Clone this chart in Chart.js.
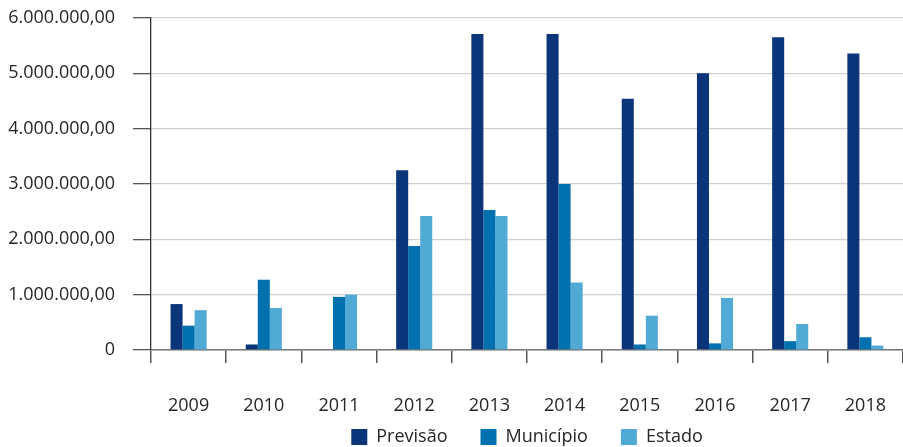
<!DOCTYPE html>
<html>
<head>
<meta charset="utf-8">
<script src="https://cdn.jsdelivr.net/npm/chart.js"></script>
<style>
  html, body { margin: 0; padding: 0; background: #fff; }
  #wrap { width: 903px; height: 447px; }
</style>
</head>
<body>
<div id="wrap"><canvas id="chart"></canvas></div>
<script>
const years = ["2009", "2010", "2011", "2012", "2013", "2014", "2015", "2016", "2017", "2018"];
const previsao = [830000, 100000, 0, 3250000, 5710000, 5710000, 4540000, 5000000, 5650000, 5360000];
const municipio = [440000, 1270000, 960000, 1880000, 2530000, 3000000, 100000, 120000, 160000, 230000];
const estado = [720000, 760000, 1000000, 2420000, 2420000, 1220000, 620000, 940000, 470000, 80000];
const yTicks = [0, 1000000, 2000000, 3000000, 4000000, 5000000, 6000000];

// 1000000 -> "1.000.000,00", 0 -> "0"
function fmt(v) {
  if (v === 0) return "0";
  const s = Math.round(v).toString().replace(/\B(?=(\d{3})+(?!\d))/g, ".");
  return s + ",00";
}

const FONT = "'Open Sans', 'Noto Sans', sans-serif";
Chart.defaults.font.family = FONT;
Chart.defaults.font.size = 18;
Chart.defaults.color = "#262626";

new Chart(document.getElementById("chart"), {
  type: "bar",
  data: {
    labels: years,
    datasets: [
      { label: "Previsão", data: previsao, backgroundColor: "#0a357b" },
      { label: "Município", data: municipio, backgroundColor: "#0071ae" },
      { label: "Estado", data: estado, backgroundColor: "#51a9d6" }
    ]
  },
  options: {
    responsive: true,
    maintainAspectRatio: false,
    animation: false,
    layout: { padding: { top: 18, right: 0, left: 0, bottom: -9 } },
    datasets: { bar: { barPercentage: 1, categoryPercentage: 0.48 } },
    plugins: {
      tooltip: { enabled: false },
      legend: {
        position: "bottom",
        fullSize: false,
        // empty title with negative padding pulls the row up, keeps wide item gaps
        title: { display: true, text: "", font: { size: 1, lineHeight: 1 }, padding: { top: -11, bottom: -11 } },
        labels: { boxWidth: 16, boxHeight: 16, padding: 33, color: "#262626" }
      }
    },
    scales: {
      x: {
        grid: { drawOnChartArea: false, offset: true, tickLength: 13, tickColor: "#555", lineWidth: 1.5 },
        border: { color: "#777", width: 1.5 },
        ticks: { padding: 32, color: "#262626" },
        afterFit: (s) => { s.height = 66; s.paddingLeft = 0; s.paddingRight = 0; }
      },
      y: {
        min: 0,
        max: 6000000,
        afterBuildTicks: (s) => { s.ticks = yTicks.map(v => ({ value: v })); },
        grid: { color: "#cfcfcf", lineWidth: 1.3, tickLength: 18, tickColor: "#555" },
        border: { color: "#333", width: 1.3 },
        ticks: { padding: 18, color: "#262626", callback: (v) => fmt(v) },
        afterFit: (s) => { s.width = 151; s.paddingTop = 0; s.paddingBottom = 0; }
      }
    }
  }
});
</script>
</body>
</html>
